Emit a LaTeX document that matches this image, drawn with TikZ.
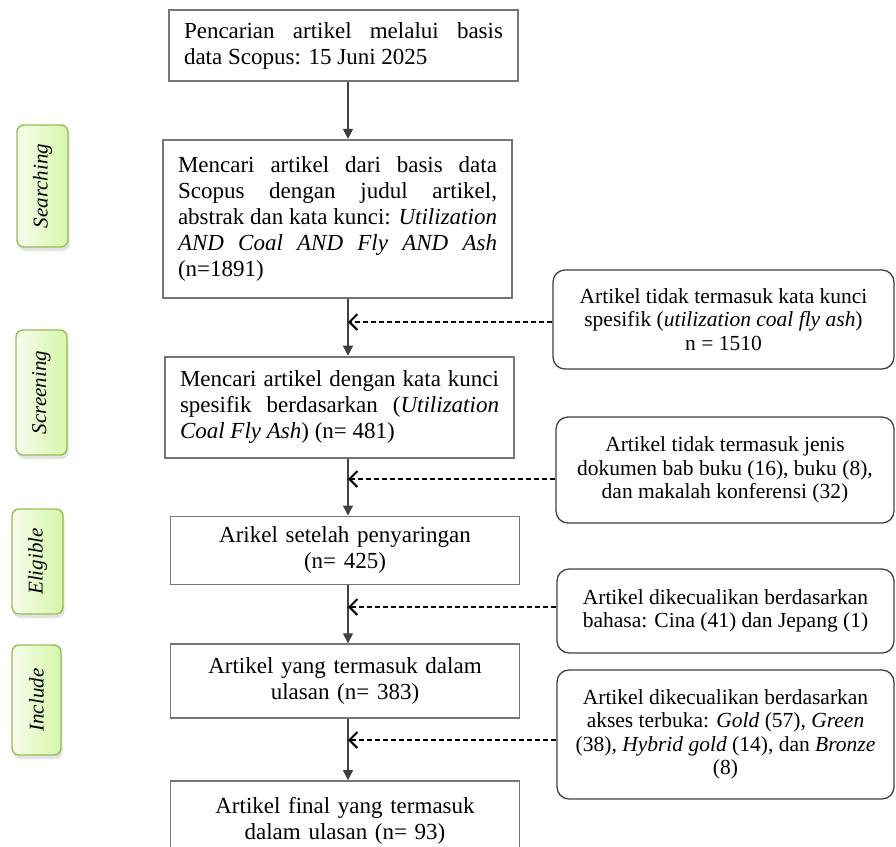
\documentclass[tikz,border=0pt]{standalone}
\usepackage{fontspec}
\setmainfont{Liberation Serif}
\usetikzlibrary{positioning,arrows.meta,shadows}
\definecolor{framec}{RGB}{118,118,118}
\definecolor{edgec}{RGB}{64,64,64}
\definecolor{phaseline}{RGB}{155,187,89}
\definecolor{phaselight}{RGB}{246,253,236}
\definecolor{phasedark}{RGB}{214,246,168}
\tikzset{
  stepbox/.style  = {draw=framec, line width=1.8pt, inner xsep=15pt, inner ysep=6pt,
                     text width=319pt, align=justify,
                     font=\fontsize{23}{26}\selectfont\hyphenpenalty10000\tolerance9999},
  centrebox/.style = {stepbox, align=center},
  exclbox/.style  = {draw=edgec, line width=1.3pt, rounded corners=12pt, align=center,
                     inner sep=4pt, font=\fontsize{21.5}{23.5}\selectfont},
  phase/.style    = {draw=phaseline, line width=1.4pt, rounded corners=7pt, rotate=90,
                     left color=phaselight, right color=phasedark,
                     drop shadow={shadow xshift=1.5pt, shadow yshift=-4pt, opacity=0.22},
                     font=\fontsize{21}{24}\selectfont\itshape},
  flow/.style     = {-{Triangle[length=10pt,width=10pt]}, line width=1.3pt, draw=edgec},
  dropflow/.style = {-{Straight Barb[length=8pt,width=16pt,line width=2pt]}, line width=2pt,
                     dash pattern=on 5pt off 3pt, draw=black},
}

\begin{document}
\begin{tikzpicture}[x=1pt, y=-1pt]

\clip (0,0) rectangle (896,846);
\coordinate (spine) at (348,0);

% main column
\node[stepbox, minimum height=71pt] (search) at (343.5,45.5)
  {Pencarian artikel melalui basis\linebreak data Scopus: 15 Juni 2025};
\node[stepbox, minimum height=158pt, below=57pt of search, xshift=-6pt] (query)
  {Mencari artikel dari basis data\linebreak Scopus dengan judul artikel,\linebreak
   abstrak dan kata kunci: \textit{Utilization}\linebreak
   \textit{AND Coal AND Fly AND Ash}\linebreak (n=1891)};
\node[stepbox, minimum height=101pt, below=57pt of query, xshift=2pt] (keyword)
  {Mencari artikel dengan kata kunci\linebreak spesifik berdasarkan (\textit{Utilization}\linebreak
   \textit{Coal Fly Ash}) (n= 481)};
\node[centrebox, minimum height=68pt, below=57pt of keyword, xshift=5.5pt] (filtered)
  {Arikel setelah penyaringan\\(n= 425)};
\node[centrebox, minimum height=74pt, below=58pt of filtered] (review)
  {Artikel yang termasuk dalam\\ulasan (n= 383)};
\node[centrebox, minimum height=80pt, below=61pt of review] (final)
  {Artikel final yang termasuk\\dalam ulasan (n= 93)};

% excluded records
\node[exclbox, minimum width=341pt, minimum height=99pt] (kwout) at (723.5,319.5)
  {Artikel tidak termasuk kata kunci\\spesifik (\textit{utilization coal fly ash})\\n = 1510};
\node[exclbox, minimum width=338pt, minimum height=106pt] (docout) at (725,470)
  {Artikel tidak termasuk jenis\\dokumen bab buku (16), buku (8),\\dan makalah konferensi (32)};
\node[exclbox, minimum width=337pt, minimum height=84pt] (langout) at (725.5,611)
  {Artikel dikecualikan berdasarkan\\bahasa: Cina (41) dan Jepang (1)};
\node[exclbox, minimum width=337pt, minimum height=129pt] (oaout) at (725.5,734.5)
  {Artikel dikecualikan berdasarkan\\akses terbuka: \textit{Gold} (57), \textit{Green}\\
   (38), \textit{Hybrid gold} (14), dan \textit{Bronze}\\(8)};

% phases
\node[phase, minimum width=122pt, minimum height=51pt] (psearch) at (42.5,186) {Searching};
\node[phase, minimum width=125pt, minimum height=51pt] (pscreen) at (41.5,392.5) {Screening};
\node[phase, minimum width=105pt, minimum height=51pt] (peligible) at (37.5,561.5) {Eligible};
\node[phase, minimum width=110pt, minimum height=49pt] (pinclude) at (36.5,700) {Include};

\draw[flow] (search.south -| spine) -- (query.north -| spine);
\draw[flow] (query.south -| spine) -- (keyword.north -| spine);
\draw[flow] (keyword.south -| spine) -- (filtered.north -| spine);
\draw[flow] (filtered.south -| spine) -- (review.north -| spine);
\draw[flow] (review.south -| spine) -- (final.north -| spine);

\coordinate (kwtap) at ([yshift=-2.5pt]kwout.west);
\coordinate (doctap) at ([yshift=-9pt]docout.west);
\coordinate (langtap) at ([yshift=4pt]langout.west);
\coordinate (oatap) at ([yshift=-5.5pt]oaout.west);
\draw[dropflow] (kwtap) -- (kwtap -| spine);
\draw[dropflow] (doctap) -- (doctap -| spine);
\draw[dropflow] (langtap) -- (langtap -| spine);
\draw[dropflow] (oatap) -- (oatap -| spine);

\end{tikzpicture}
\end{document}
